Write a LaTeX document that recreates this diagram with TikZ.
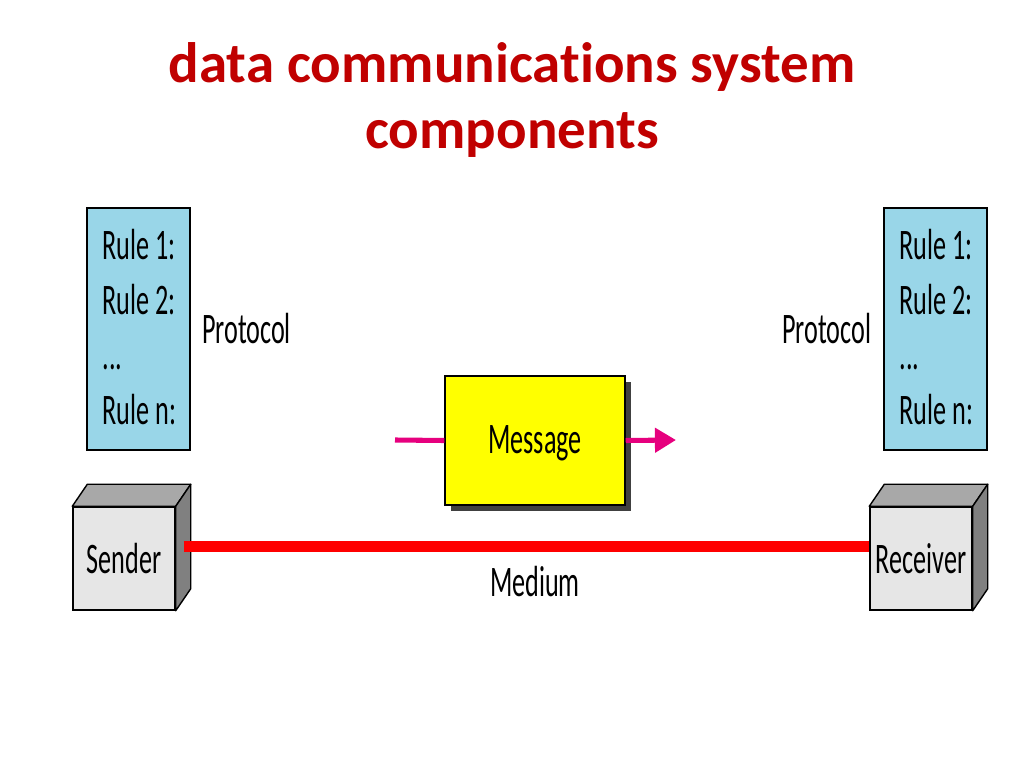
\documentclass[tikz,border=0pt]{standalone}
\usepackage{fontspec}
\setmainfont{Carlito}[Ligatures=NoCommon]
\newfontfamily\figfont[FakeStretch=0.6]{Carlito}
\usetikzlibrary{arrows.meta,shadows}
\definecolor{titlered}{RGB}{192,0,0}
\definecolor{protblue}{RGB}{153,214,232}
\definecolor{frontgray}{RGB}{230,230,230}
\definecolor{topgray}{RGB}{168,168,168}
\definecolor{sidegray}{RGB}{128,128,128}
\definecolor{msgpink}{RGB}{230,0,126}
\definecolor{msgyellow}{RGB}{255,255,0}
\begin{document}
\begin{tikzpicture}[x=0.025cm, y=-0.025cm,
    figtext/.style={font=\figfont\fontsize{31}{39}\selectfont, inner sep=0},
    rulebox/.style={draw=black, line width=1pt, fill=protblue, minimum width=2.575cm, minimum height=6.05cm},
    frontbox/.style={draw=black, line width=1pt, fill=frontgray, minimum width=2.55cm, minimum height=2.575cm},
    pinkline/.style={draw=msgpink, line width=3.6pt}]
  \useasboundingbox (0,0) rectangle (1024,768);
  \node (title) at (512,100) [align=center, text=titlered, font=\bfseries\fontsize{40.5}{47}\selectfont]
    {data communications system\\components};

  % protocol boxes
  \node (protL) at (138.5,329) [rulebox] {};
  \node (rulesL) [figtext, anchor=north west, align=left] at ([shift={(16,22)}]protL.north west)
    {Rule 1:\\Rule 2:\\...\\Rule n:};
  \node (protLtext) [figtext, anchor=west] at ([shift={(11,0)}]protL.east) {Protocol};
  \node (protR) at (935.5,329) [rulebox] {};
  \node (rulesR) [figtext, anchor=north west, align=left] at ([shift={(16,22)}]protR.north west)
    {Rule 1:\\Rule 2:\\...\\Rule n:};
  \node (protRtext) [figtext, anchor=east] at ([shift={(-12,0)}]protR.west) {Protocol};

  % message
  \node (msg) at (535,440.5) [draw=black, line width=1pt, fill=msgyellow, minimum width=4.5cm, minimum height=3.225cm,
    drop shadow={shadow xshift=4.5pt, shadow yshift=-4.5pt, fill=black!75, opacity=1}] {};
  \node (msgtext) [figtext] at ([yshift=-2pt]msg.center) {Message};
  \coordinate (msgin) at (395,440);
  \coordinate (msgout) at (676,440);
  \draw [pinkline] (msgin) -- (msg.west);
  \draw [pinkline, -{Triangle[length=15pt, width=17pt]}] (msg.east) -- (msgout);

  % sender and receiver
  \foreach \name/\x/\txt in {sender/124/Sender, receiver/921/Receiver} {
    \node (\name) at (\x,558.5) [frontbox] {};
    \filldraw [fill=topgray, line width=1pt, line join=round] (\name.north west) -- (\name.north east)
      -- ++(15,-22) -- ([shift={(15,-22)}]\name.north west) -- cycle;
    \filldraw [fill=sidegray, line width=1pt, line join=round] (\name.north east) -- ++(15,-22)
      -- ([shift={(15,-22)}]\name.south east) -- (\name.south east) -- cycle;
    \node (\name text) [figtext] at (\name.center) {\txt};
  }

  % medium
  \draw [red, line width=8.5pt] ([shift={(8,-12)}]sender.east) -- ([shift={(0,-12)}]receiver.west);
  \node (medium) [figtext] at (535,582) {Medium};
\end{tikzpicture}
\end{document}
